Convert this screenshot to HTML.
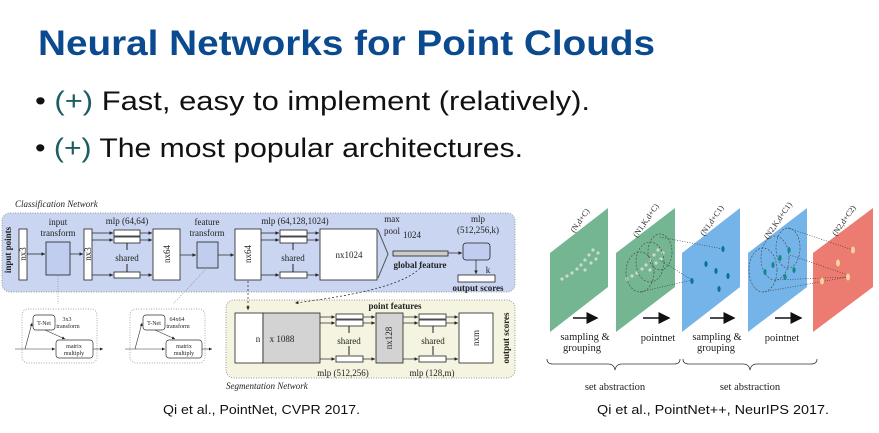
<!DOCTYPE html>
<html><head><meta charset="utf-8"><style>
html,body{margin:0;padding:0;background:#fff;}
svg{display:block;}
.s{font-family:"Liberation Serif",serif;fill:#222;}
</style></head><body>
<svg width="879" height="433" viewBox="0 0 879 433" xmlns="http://www.w3.org/2000/svg">
<defs>
<marker id="a" markerWidth="6" markerHeight="6" refX="5" refY="3" orient="auto"><path d="M0,0.5 L5,3 L0,5.5z" fill="#222"/></marker>
<marker id="b" markerWidth="8" markerHeight="8" refX="7" refY="4" orient="auto"><path d="M0,0 L8,4 L0,8z" fill="#111"/></marker>
</defs>
<text x="38" y="55" font-family="Liberation Sans,sans-serif" font-weight="bold" font-size="35" fill="#0b4a8e" textLength="617" lengthAdjust="spacingAndGlyphs">Neural Networks for Point Clouds</text>
<text x="35" y="110" font-family="Liberation Sans,sans-serif" font-size="27" fill="#111" textLength="555" lengthAdjust="spacingAndGlyphs">• <tspan fill="#1a5e60">(+)</tspan> Fast, easy to implement (relatively).</text>
<text x="35" y="157" font-family="Liberation Sans,sans-serif" font-size="27" fill="#111" textLength="488" lengthAdjust="spacingAndGlyphs">• <tspan fill="#1a5e60">(+)</tspan> The most popular architectures.</text>

<text x="15" y="207" class="s" font-size="9" font-style="italic">Classification Network</text>
<rect x="2" y="213" width="513" height="79" rx="8" fill="#c9d5f1" stroke="#999" stroke-dasharray="1,1.5"/>
<text transform="translate(11,250) rotate(-90)" class="s" font-size="9" font-weight="bold" text-anchor="middle">input points</text>
<g stroke="#222" stroke-width="0.8" fill="#fff">
<rect x="19" y="229" width="8" height="51"/>
<rect x="46" y="242" width="24" height="33" fill="#c0cdef"/>
<rect x="84" y="229" width="8" height="51"/>
<rect x="114" y="230" width="26" height="6"/><rect x="114" y="237" width="26" height="6"/><rect x="114" y="272" width="26" height="6"/>
<rect x="153" y="229" width="27" height="51"/>
<rect x="197" y="242" width="21" height="26" fill="#c0cdef"/>
<rect x="235" y="229" width="26" height="51"/>
<rect x="280" y="230" width="27" height="6"/><rect x="280" y="237" width="27" height="6"/><rect x="280" y="272" width="27" height="6"/>
<rect x="320" y="229" width="57" height="51"/>
<rect x="393" y="251" width="55" height="5" fill="#ccc"/>
<rect x="463" y="243" width="27" height="17" rx="3" fill="#c0cdef"/>
<rect x="458" y="275" width="37" height="7"/>
</g>
<path d="M378,230 L388,254 L378,278" fill="none" stroke="#555" stroke-width="1"/>
<g stroke="#222" stroke-width="0.7" fill="none" marker-end="url(#a)">
<line x1="27" y1="254" x2="45" y2="254"/><line x1="70" y1="254" x2="83" y2="254"/>
<line x1="92" y1="233" x2="113" y2="233"/><line x1="92" y1="240" x2="113" y2="240"/><line x1="92" y1="275" x2="113" y2="275"/>
<line x1="140" y1="233" x2="152" y2="233"/><line x1="140" y1="240" x2="152" y2="240"/><line x1="140" y1="275" x2="152" y2="275"/>
<line x1="180" y1="255" x2="196" y2="255"/><line x1="218" y1="255" x2="234" y2="255"/>
<line x1="261" y1="233" x2="279" y2="233"/><line x1="261" y1="240" x2="279" y2="240"/><line x1="261" y1="275" x2="279" y2="275"/>
<line x1="307" y1="233" x2="319" y2="233"/><line x1="307" y1="240" x2="319" y2="240"/><line x1="307" y1="275" x2="319" y2="275"/>
<line x1="448" y1="253" x2="462" y2="253"/><line x1="476" y1="260" x2="476" y2="274"/>
</g>
<g stroke="#222" stroke-width="1"><line x1="127" y1="243" x2="127" y2="250"/><line x1="127" y1="264" x2="127" y2="272"/><line x1="293" y1="243" x2="293" y2="250"/><line x1="293" y1="264" x2="293" y2="272"/></g>
<g class="s" font-size="9" text-anchor="middle">
<text transform="translate(26,254) rotate(-90)">nx3</text>
<text transform="translate(91,254) rotate(-90)">nx3</text>
<text transform="translate(170,254) rotate(-90)">nx64</text>
<text transform="translate(251,254) rotate(-90)">nx64</text>
<text x="58" y="225">input</text><text x="58" y="236">transform</text>
<text x="127" y="224">mlp (64,64)</text><text x="127" y="261">shared</text>
<text x="207" y="225">feature</text><text x="207" y="236">transform</text>
<text x="295" y="224">mlp (64,128,1024)</text><text x="293" y="261">shared</text>
<text x="349" y="258">nx1024</text>
<text x="392" y="222">max</text><text x="392" y="234">pool</text>
<text x="412" y="238">1024</text>
<text x="420" y="268" font-weight="bold">global feature</text>
<text x="478" y="222">mlp</text><text x="478" y="233">(512,256,k)</text>
<text x="488" y="273">k</text>
<text x="478" y="291" font-weight="bold">output scores</text>
</g>
<rect x="226" y="300" width="289" height="78" rx="8" fill="#f4f4e1" stroke="#999" stroke-dasharray="1,1.5"/>
<g stroke="#222" stroke-width="0.8" fill="#fff">
<rect x="235" y="313" width="28" height="50"/><rect x="263" y="313" width="57" height="50" fill="#d3d3d3"/>
<rect x="336" y="314" width="27" height="5"/><rect x="336" y="320" width="27" height="6"/><rect x="336" y="356" width="27" height="6"/>
<rect x="376" y="313" width="27" height="50" fill="#d3d3d3"/>
<rect x="419" y="314" width="27" height="5"/><rect x="419" y="320" width="27" height="6"/><rect x="419" y="356" width="27" height="6"/>
<rect x="459" y="313" width="34" height="50"/>
</g>
<g stroke="#222" stroke-width="0.7" fill="none" marker-end="url(#a)">
<line x1="320" y1="317" x2="335" y2="317"/><line x1="320" y1="323" x2="335" y2="323"/><line x1="320" y1="359" x2="335" y2="359"/>
<line x1="363" y1="317" x2="375" y2="317"/><line x1="363" y1="323" x2="375" y2="323"/><line x1="363" y1="359" x2="375" y2="359"/>
<line x1="403" y1="317" x2="418" y2="317"/><line x1="403" y1="323" x2="418" y2="323"/><line x1="403" y1="359" x2="418" y2="359"/>
<line x1="446" y1="317" x2="458" y2="317"/><line x1="446" y1="323" x2="458" y2="323"/><line x1="446" y1="359" x2="458" y2="359"/>
<line x1="248" y1="281" x2="248" y2="310" stroke-dasharray="2,2"/>
<path d="M420,268 Q400,290 295,303" stroke-dasharray="2,2"/>
</g>
<g stroke="#222" stroke-width="1"><line x1="349" y1="326" x2="349" y2="333"/><line x1="349" y1="346" x2="349" y2="355"/><line x1="433" y1="326" x2="433" y2="333"/><line x1="433" y1="346" x2="433" y2="355"/></g>
<g class="s" font-size="9" text-anchor="middle">
<text x="395" y="309" font-weight="bold">point features</text>
<text x="258" y="342">n</text><text x="282" y="342">x 1088</text>
<text x="349" y="344">shared</text><text x="433" y="344">shared</text>
<text transform="translate(392,338) rotate(-90)">nx128</text>
<text transform="translate(479,338) rotate(-90)">nxm</text>
<text transform="translate(509,338) rotate(-90)" font-weight="bold">output scores</text>
<text x="343" y="376">mlp (512,256)</text><text x="432" y="376">mlp (128,m)</text>
</g>
<text x="226" y="389" class="s" font-size="9" font-style="italic">Segmentation Network</text>
<g stroke="#888" stroke-dasharray="1,1.5" fill="none" stroke-width="0.7">
<rect x="22" y="309" width="75" height="54" rx="6"/><rect x="130" y="309" width="75" height="54" rx="6"/>
<line x1="58" y1="276" x2="58" y2="304"/><line x1="207" y1="268" x2="173" y2="304"/>
</g>
<g stroke="#333" stroke-width="0.7" fill="#fff">
<rect x="33" y="315" width="22" height="15" rx="3"/><rect x="56" y="340" width="37" height="18" rx="3"/>
<rect x="143" y="315" width="22" height="15" rx="3"/><rect x="166" y="340" width="36" height="18" rx="3"/>
</g>
<g stroke="#333" stroke-width="0.6" fill="none" marker-end="url(#a)">
<line x1="15" y1="349" x2="55" y2="349"/><line x1="93" y1="349" x2="103" y2="349"/><path d="M25,349 L32,323"/><line x1="45" y1="330" x2="65" y2="339"/>
<line x1="125" y1="349" x2="165" y2="349"/><line x1="202" y1="349" x2="212" y2="349"/><path d="M135,349 L142,323"/><line x1="155" y1="330" x2="175" y2="339"/>
</g>
<g class="s" font-size="6" text-anchor="middle">
<text x="44" y="325">T-Net</text><text x="67" y="321">3x3</text><text x="68" y="328">transform</text><text x="74" y="348">matrix</text><text x="74" y="355">multiply</text>
<text x="154" y="325">T-Net</text><text x="177" y="321">64x64</text><text x="178" y="328">transform</text><text x="184" y="348">matrix</text><text x="184" y="355">multiply</text>
</g>
<g>
<polygon points="550,253 608,208 608,287 550,332" fill="#74b592"/>
<polygon points="616,253 675,208 675,287 616,332" fill="#74b592"/>
<polygon points="682,253 740,208 740,287 682,332" fill="#74b4e8"/>
<polygon points="748,253 807,208 807,287 748,332" fill="#74b4e8"/>
<polygon points="813,253 873,208 873,287 813,332" fill="#ec7b72"/>
</g>
<g fill="#cfd8d3">
<circle cx="562" cy="279" r="1.6"/><circle cx="567" cy="276" r="1.6"/><circle cx="572" cy="273" r="1.6"/><circle cx="577" cy="269" r="1.6"/><circle cx="581" cy="265" r="1.6"/><circle cx="585" cy="260" r="1.6"/><circle cx="589" cy="255" r="1.6"/><circle cx="593" cy="250" r="1.6"/><circle cx="591" cy="263" r="1.6"/><circle cx="596" cy="259" r="1.6"/><circle cx="598" cy="253" r="1.6"/><circle cx="585" cy="270" r="1.6"/>
<circle cx="627" cy="279" r="1.6"/><circle cx="632" cy="276" r="1.6"/><circle cx="637" cy="273" r="1.6"/><circle cx="642" cy="269" r="1.6"/><circle cx="646" cy="265" r="1.6"/><circle cx="650" cy="260" r="1.6"/><circle cx="654" cy="255" r="1.6"/><circle cx="658" cy="250" r="1.6"/><circle cx="656" cy="263" r="1.6"/><circle cx="661" cy="259" r="1.6"/><circle cx="663" cy="253" r="1.6"/><circle cx="650" cy="270" r="1.6"/>
</g>
<g fill="none" stroke="#444" stroke-dasharray="2,1.5" stroke-width="0.6">
<ellipse cx="640" cy="272" rx="14" ry="20"/><ellipse cx="650" cy="262" rx="14" ry="20"/><ellipse cx="660" cy="252" rx="12" ry="18"/>
<ellipse cx="763" cy="270" rx="14" ry="22"/><ellipse cx="775" cy="258" rx="14" ry="22"/><ellipse cx="788" cy="248" rx="12" ry="20"/>
</g>
<g stroke="#333" stroke-dasharray="1,1.5" stroke-width="0.6">
<line x1="660" y1="237" x2="723" y2="249"/><line x1="660" y1="260" x2="692" y2="280"/><line x1="640" y1="292" x2="692" y2="280"/>
<line x1="788" y1="228" x2="853" y2="250"/><line x1="775" y1="280" x2="848" y2="277"/><line x1="763" y1="292" x2="848" y2="277"/><line x1="790" y1="255" x2="848" y2="275"/>
</g>
<g fill="#0b6f9a">
<ellipse cx="723" cy="249" rx="1.6" ry="3"/><ellipse cx="706" cy="264" rx="1.6" ry="3"/><ellipse cx="716" cy="271" rx="1.6" ry="3"/><ellipse cx="692" cy="281" rx="1.6" ry="3"/><ellipse cx="728" cy="276" rx="1.6" ry="3"/><ellipse cx="719" cy="289" rx="1.6" ry="3"/>
</g>
<g fill="#0e8a8a">
<ellipse cx="789" cy="250" rx="1.6" ry="3"/><ellipse cx="780" cy="258" rx="1.6" ry="3"/><ellipse cx="773" cy="265" rx="1.6" ry="3"/><ellipse cx="794" cy="270" rx="1.6" ry="3"/><ellipse cx="765" cy="272" rx="1.6" ry="3"/><ellipse cx="785" cy="277" rx="1.6" ry="3"/>
</g>
<g fill="#f6d49a">
<ellipse cx="853" cy="250" rx="2" ry="3.5"/><ellipse cx="838" cy="263" rx="2" ry="3.5"/><ellipse cx="848" cy="277" rx="2" ry="3.5"/><ellipse cx="822" cy="281" rx="2" ry="3.5"/>
</g>
<g class="s" font-size="8" text-anchor="middle">
<text transform="translate(582,222) rotate(-55)">(N,d+C)</text>
<text transform="translate(648,222) rotate(-55)">(N1,K,d+C)</text>
<text transform="translate(714,222) rotate(-55)">(N1,d+C1)</text>
<text transform="translate(780,222) rotate(-55)">(N2,K,d+C1)</text>
<text transform="translate(846,222) rotate(-55)">(N2,d+C2)</text>
</g>
<g stroke="#111" stroke-width="1.5" marker-end="url(#b)">
<line x1="573" y1="318" x2="597" y2="318"/><line x1="643" y1="318" x2="669" y2="318"/><line x1="710" y1="318" x2="734" y2="318"/><line x1="775" y1="318" x2="801" y2="318"/>
</g>
<g class="s" font-size="10.5" text-anchor="middle">
<text x="585" y="340">sampling &amp;</text><text x="582" y="351">grouping</text>
<text x="658" y="341">pointnet</text>
<text x="717" y="340">sampling &amp;</text><text x="716" y="351">grouping</text>
<text x="782" y="341">pointnet</text>
<text x="615" y="390">set abstraction</text><text x="750" y="390">set abstraction</text>
</g>
<g fill="none" stroke="#333" stroke-width="0.8">
<path d="M547,359 Q547,364 553,364 L608,364 Q614,364 615,370 Q616,364 622,364 L674,364 Q680,364 680,359"/>
<path d="M683,359 Q683,364 689,364 L743,364 Q749,364 750,370 Q751,364 757,364 L811,364 Q817,364 817,359"/>
</g>
<text x="163" y="414" font-family="Liberation Sans,sans-serif" font-size="13" fill="#111" textLength="197" lengthAdjust="spacingAndGlyphs">Qi et al., PointNet, CVPR 2017.</text>
<text x="597" y="414" font-family="Liberation Sans,sans-serif" font-size="13" fill="#111" textLength="232" lengthAdjust="spacingAndGlyphs">Qi et al., PointNet++, NeurIPS 2017.</text>
</svg>
</body></html>
